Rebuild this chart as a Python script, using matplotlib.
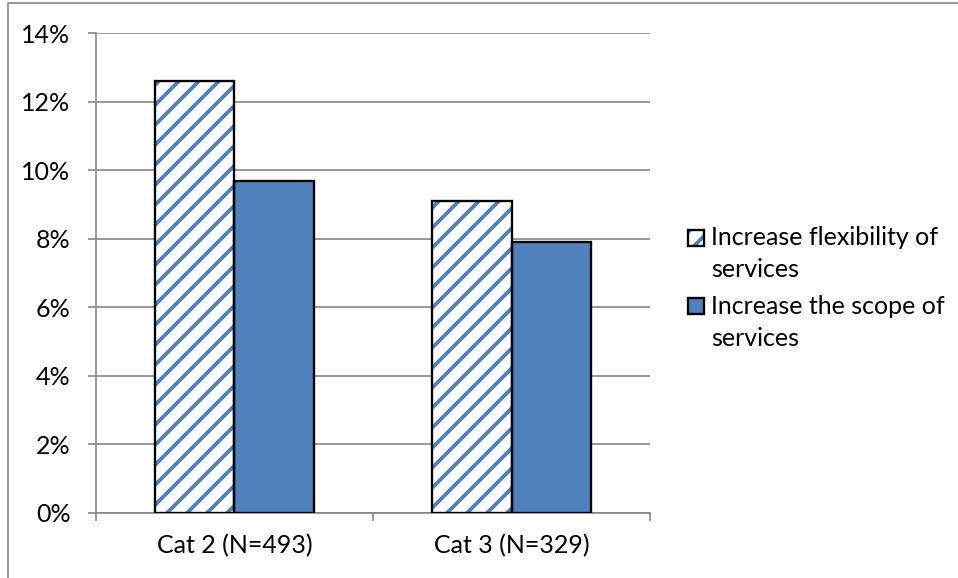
import matplotlib
matplotlib.use("Agg")
import matplotlib.pyplot as plt
from matplotlib.lines import Line2D
from matplotlib.patches import Rectangle
from matplotlib.legend_handler import HandlerBase
from matplotlib.ticker import FuncFormatter, FixedLocator
import numpy as np

# Data
categories = ["Cat 2 (N=493)", "Cat 3 (N=329)"]
series_names = ["Increase flexibility of\nservices", "Increase the scope of\nservices"]
flexibility = [12.6, 9.1]
scope = [9.7, 7.9]
y_ticks = [0, 2, 4, 6, 8, 10, 12, 14]

BLUE = "#4F81BD"
GRID = "#868686"
DPI = 120
FS = 15
LEGEND_LINESPACING = 1.47

plt.rcParams["font.family"] = ["Lato", "DejaVu Sans"]
plt.rcParams["hatch.linewidth"] = 2.3


class FirstLineSquare(HandlerBase):
    """Legend key drawn as stacked squares, aligned with the first label line."""

    def __init__(self, layers, dy):
        super().__init__()
        self.layers = layers
        self.dy = dy

    def create_artists(self, legend, orig_handle, xdescent, ydescent,
                       width, height, fontsize, trans):
        arts = []
        for kw in self.layers:
            arts.append(Rectangle((-xdescent, -ydescent + self.dy), width, height,
                                  transform=trans, **kw))
        return arts


fig = plt.figure(figsize=(958 / DPI, 578 / DPI), dpi=DPI)
ax = fig.add_axes([0.1002, 0.113, 0.5783, 0.8294])

x = np.arange(len(categories))
width = 0.286

# Striped series: blue hatch on white, then a black outline on top
hatch_bars = ax.bar(x - width / 2, flexibility, width, color="white",
                    edgecolor=BLUE, hatch="//", linewidth=0, zorder=3)
outline_bars = ax.bar(x - width / 2, flexibility, width, fill=False,
                      edgecolor="black", linewidth=1.4, zorder=4)
solid_bars = ax.bar(x + width / 2, scope, width, color=BLUE, edgecolor="black",
                    linewidth=1.4, zorder=3)

ax.set_xlim(-0.5, len(categories) - 0.5)
ax.set_ylim(0, 14)
ax.set_yticks(y_ticks)
ax.yaxis.set_major_formatter(FuncFormatter(lambda v, p: f"{v:.0f}%"))
ax.set_xticks(x)
ax.set_xticklabels(categories)
ax.xaxis.set_minor_locator(FixedLocator(np.arange(-0.5, len(categories), 1.0)))

ax.grid(axis="y", color=GRID, linewidth=1.0, zorder=0)
ax.set_axisbelow(True)
for side in ("top", "right"):
    ax.spines[side].set_visible(False)
for side in ("left", "bottom"):
    ax.spines[side].set_color(GRID)
    ax.spines[side].set_linewidth(1.0)

ax.tick_params(axis="y", length=4.8, width=1.0, color=GRID, pad=10.5,
               labelsize=FS, labelcolor="black")
ax.tick_params(axis="x", which="major", length=0, pad=12.5, labelsize=FS)
ax.tick_params(axis="x", which="minor", length=4.8, width=1.0, color=GRID)

# Half a line pitch (in points) lifts the key onto the first label line
key_shift = 0.5 * 33 * 72 / DPI
hatch_key = FirstLineSquare(
    [dict(facecolor="white", edgecolor=BLUE, hatch="//", linewidth=0),
     dict(fill=False, edgecolor="black", linewidth=1.4)], key_shift)
solid_key = FirstLineSquare(
    [dict(facecolor=BLUE, edgecolor="black", linewidth=1.4)], key_shift)

leg = fig.legend([hatch_bars[0], solid_bars[0]], series_names,
                 handler_map={hatch_bars[0]: hatch_key, solid_bars[0]: solid_key},
                 loc="upper left", bbox_to_anchor=(688 / 958, 1 - 226 / 578),
                 frameon=False, fontsize=FS, handlelength=0.62, handleheight=0.62,
                 handletextpad=0.3, labelspacing=0.55, borderpad=0, borderaxespad=0)
for t in leg.get_texts():
    t.set_linespacing(LEGEND_LINESPACING)

# Outer chart-area border along the top and left edges
fig.add_artist(Line2D([8 / 958, 8 / 958, 1.0], [0.0, 1 - 2.7 / 578, 1 - 2.7 / 578],
                      transform=fig.transFigure, color=GRID, linewidth=1.0))

fig.savefig("out.png", dpi=DPI)
